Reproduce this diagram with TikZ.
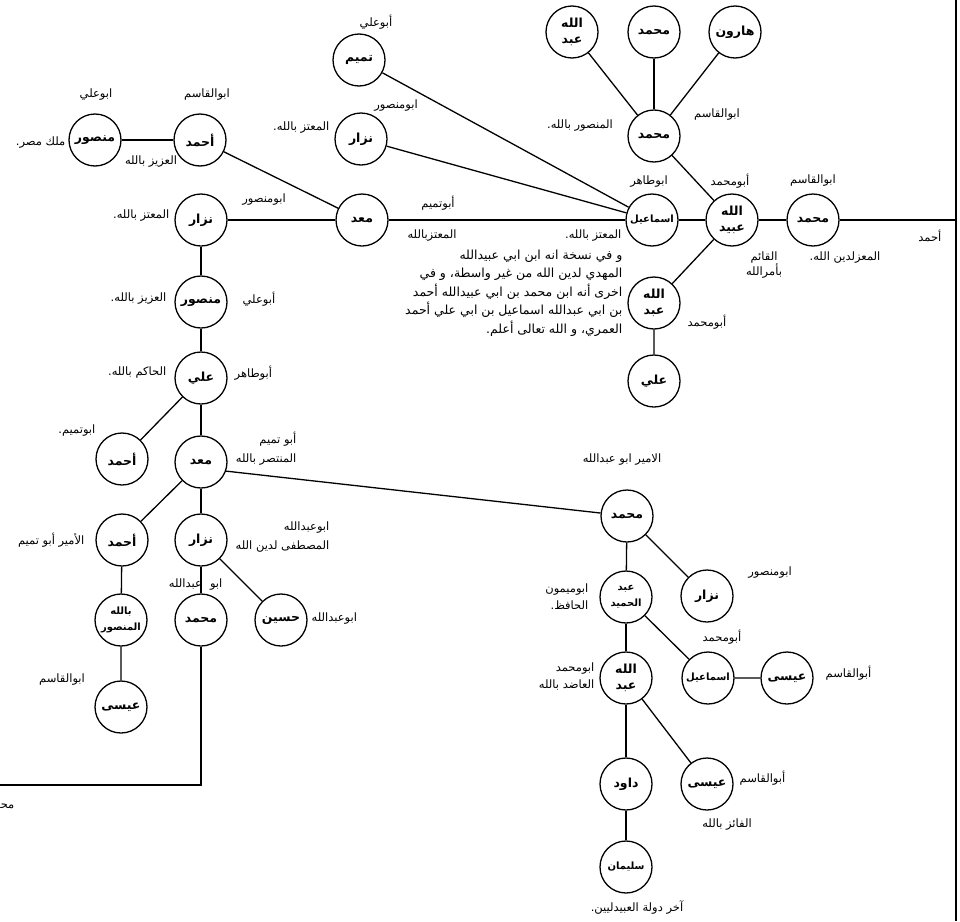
\documentclass[tikz,border=0pt]{standalone}
\usepackage{fontspec}
\newfontfamily\arabicfont[Script=Arabic]{DejaVu Sans}
\TeXXeTstate=1
\newcommand{\ar}[1]{{\arabicfont\beginR #1\endR}}

\begin{document}
\begin{tikzpicture}[x=1pt, y=-1pt, line width=1.3pt,
  p/.style={circle, draw, minimum size=52pt, inner sep=0pt, align=center,
    font=\arabicfont\bfseries\fontsize{12.5}{16}\selectfont},
  pn/.style={p, font=\arabicfont\bfseries\fontsize{10}{16}\selectfont},
  lbl/.style={inner sep=1pt, font=\arabicfont\fontsize{11.5}{18}\selectfont},
  lbl2/.style={lbl, align=right, anchor=east, font=\arabicfont\fontsize{11.5}{19}\selectfont}]
\useasboundingbox (0,0) rectangle (960,921);
% top rows
\node[p] (abd1) at (572,32) {\ar{الله}\\\ar{عبد}};
\node[p] (muh1) at (654,32) {\ar{محمد}};
\node[p] (harun) at (735,32) {\ar{هارون}};
\node[p] (tamim) at (359,60) {\ar{تميم}};
\node[p] (mansur1) at (95,140) {\ar{منصور}};
\node[p] (ahmad1) at (200,140) {\ar{أحمد}};
\node[p] (nizar1) at (361,139) {\ar{نزار}};
\node[p] (muh2) at (654,136) {\ar{محمد}};
% main row
\node[p] (nizar2) at (201,220) {\ar{نزار}};
\node[p] (maadd1) at (362,220) {\ar{معد}};
\node[pn] (ismail1) at (652,220) {\ar{اسماعيل}};
\node[p] (ubayd) at (732,220) {\ar{الله}\\\ar{عبيد}};
\node[p] (muh3) at (813,220) {\ar{محمد}};
\coordinate (edge) at (956,220);
\node[p] (abd2) at (654,303) {\ar{الله}\\\ar{عبد}};
\node[p] (ali1) at (654,381) {\ar{علي}};
% left column
\node[p] (mansur2) at (201,302) {\ar{منصور}};
\node[p] (ali2) at (201,378) {\ar{علي}};
\node[p] (ahmad2) at (122,459) {\ar{أحمد}};
\node[p] (maadd2) at (201,462) {\ar{معد}};
\node[p] (ahmad3) at (122,540) {\ar{أحمد}};
\node[p] (nizar3) at (201,540) {\ar{نزار}};
\node[pn] (mansur3) at (121,620) {\ar{بالله}\\\ar{المنصور}};
\node[p] (muh4) at (201,620) {\ar{محمد}};
\node[p] (husayn) at (281,620) {\ar{حسين}};
\node[p] (isa1) at (121,707) {\ar{عيسى}};
\coordinate (c1) at (201,785);
\coordinate (c2) at (0,785);
% right bottom
\node[p] (muh5) at (627,516) {\ar{محمد}};
\node[p] (nizar4) at (707,596) {\ar{نزار}};
\node[pn] (hamid) at (626,597) {\ar{عبد}\\\ar{الحميد}};
\node[p] (abd3) at (626,678) {\ar{الله}\\\ar{عبد}};
\node[pn] (ismail2) at (708,678) {\ar{اسماعيل}};
\node[p] (isa2) at (787,678) {\ar{عيسى}};
\node[p] (dawud) at (626,784) {\ar{داود}};
\node[p] (isa3) at (707,784) {\ar{عيسى}};
\node[pn] (sulayman) at (626,867) {\ar{سليمان}};
\coordinate (btop) at (956,0);
\coordinate (bbot) at (956,921);

% labels
\node[lbl] (l1) at (96,95) {\ar{ابوعلي}};
\node[lbl] (l2) at (207,95) {\ar{ابوالقاسم}};
\node[lbl, anchor=east] (l3) at (67,143) {\ar{ملك مصر.}};
\node[lbl] (l4) at (151,162) {\ar{العزيز بالله}};
\node[lbl, anchor=east] (l5) at (331,128) {\ar{المعتز بالله.}};
\node[lbl] (l6) at (396,106) {\ar{ابومنصور}};
\node[lbl] (l7) at (376,22) {\ar{أبوعلي}};
\node[lbl] (l8) at (580,126) {\ar{المنصور بالله.}};
\node[lbl] (l9) at (717,115) {\ar{ابوالقاسم}};
\node[lbl] (l10) at (649,182) {\ar{ابوطاهر}};
\node[lbl] (l11) at (730,181) {\ar{أبومحمد}};
\node[lbl] (l12) at (813,181) {\ar{ابوالقاسم}};
\node[lbl, anchor=east] (l13) at (943,236) {\ar{أحمد}};
\node[lbl] (l14) at (845,258) {\ar{المعزلدين الله.}};
\node[lbl, align=center, font=\arabicfont\fontsize{11.5}{15}\selectfont] (l15) at (764,265) {\ar{القائم}\\\ar{بأمرالله}};
\node[lbl, anchor=east] (l16) at (623,236) {\ar{المعتز بالله.}};
\node[lbl] (l17) at (438,203) {\ar{أبوتميم}};
\node[lbl] (l18) at (432,236) {\ar{المعتزبالله}};
\node[lbl] (l19) at (264,200) {\ar{ابومنصور}};
\node[lbl, anchor=east] (l20) at (171,216) {\ar{المعتز بالله.}};
\node[lbl, align=right, anchor=north east, font=\arabicfont\fontsize{12.5}{18.5}\selectfont] (note) at (624,248) {\ar{و في نسخة انه ابن ابي عبيدالله}\\\ar{المهدي لدين الله من غير واسطة، و في}\\\ar{اخرى أنه ابن محمد بن ابي عبيدالله أحمد}\\\ar{بن ابي عبدالله اسماعيل بن ابي علي أحمد}\\\ar{العمري، و الله تعالى أعلم.}};
\node[lbl, anchor=west] (l21) at (686,322) {\ar{أبومحمد}};
\node[lbl, anchor=east] (l22) at (168,299) {\ar{العزيز بالله.}};
\node[lbl, anchor=west] (l23) at (241,299) {\ar{أبوعلي}};
\node[lbl, anchor=east] (l24) at (168,373) {\ar{الحاكم بالله.}};
\node[lbl, anchor=west] (l25) at (233,373) {\ar{أبوطاهر}};
\node[lbl, anchor=east] (l26) at (97,431) {\ar{ابوتميم.}};
\node[lbl2] (l27) at (298,449) {\ar{أبو تميم}\\\ar{المنتصر بالله}};
\node[lbl, anchor=east] (l28) at (86,540) {\ar{الأمير أبو تميم}};
\node[lbl2] (l29) at (331,537) {\ar{ابوعبدالله}\\\ar{المصطفى لدين الله}};
\node[lbl, anchor=east] (l30) at (224,585) {\ar{ابو\hspace{8pt}عبدالله}};
\node[lbl, anchor=west] (l31) at (310,619) {\ar{ابوعبدالله}};
\node[lbl] (l32) at (62,680) {\ar{ابوالقاسم}};
\node[lbl, anchor=east] (cut) at (16,806) {\ar{محمد}};
\node[lbl] (l33) at (622,460) {\ar{الامير ابو عبدالله}};
\node[lbl] (l34) at (770,573) {\ar{ابومنصور}};
\node[lbl2, font=\arabicfont\fontsize{11.5}{17}\selectfont] (l35) at (590,597) {\ar{ابوميمون}\\\ar{الحافظ.}};
\node[lbl] (l36) at (722,637) {\ar{أبومحمد}};
\node[lbl2, font=\arabicfont\fontsize{11.5}{17}\selectfont] (l37) at (596,676) {\ar{ابومحمد}\\\ar{العاضد بالله}};
\node[lbl, anchor=west] (l38) at (824,673) {\ar{أبوالقاسم}};
\node[lbl, anchor=west] (l39) at (738,778) {\ar{أبوالقاسم}};
\node[lbl] (l40) at (727,825) {\ar{الفائز بالله}};
\node[lbl] (l41) at (637,907) {\ar{آخر دولة العبيدليين.}};

% connectors
\draw (btop) -- (bbot);
\draw (mansur1) -- (ahmad1);
\draw (ahmad1) -- (maadd1);
\draw (tamim) -- (ismail1);
\draw (nizar1) -- (ismail1);
\draw (abd1) -- (muh2);
\draw (muh1) -- (muh2);
\draw (harun) -- (muh2);
\draw (muh2) -- (ubayd);
\draw (nizar2) -- (maadd1) -- (ismail1) -- (ubayd) -- (muh3) -- (edge);
\draw (ubayd) -- (abd2) -- (ali1);
\draw (nizar2) -- (mansur2) -- (ali2);
\draw (ali2) -- (ahmad2);
\draw (ali2) -- (maadd2);
\draw (maadd2) -- (ahmad3);
\draw (maadd2) -- (nizar3);
\draw (maadd2.-20) -- (muh5);
\draw (ahmad3) -- (mansur3) -- (isa1);
\draw (nizar3) -- (muh4);
\draw (nizar3) -- (husayn);
\draw (muh4) -- (c1) -- (c2);
\draw (muh5) -- (hamid);
\draw (muh5) -- (nizar4);
\draw (hamid) -- (abd3);
\draw (hamid) -- (ismail2) -- (isa2);
\draw (abd3) -- (dawud) -- (sulayman);
\draw (abd3) -- (isa3);
\end{tikzpicture}
\end{document}
